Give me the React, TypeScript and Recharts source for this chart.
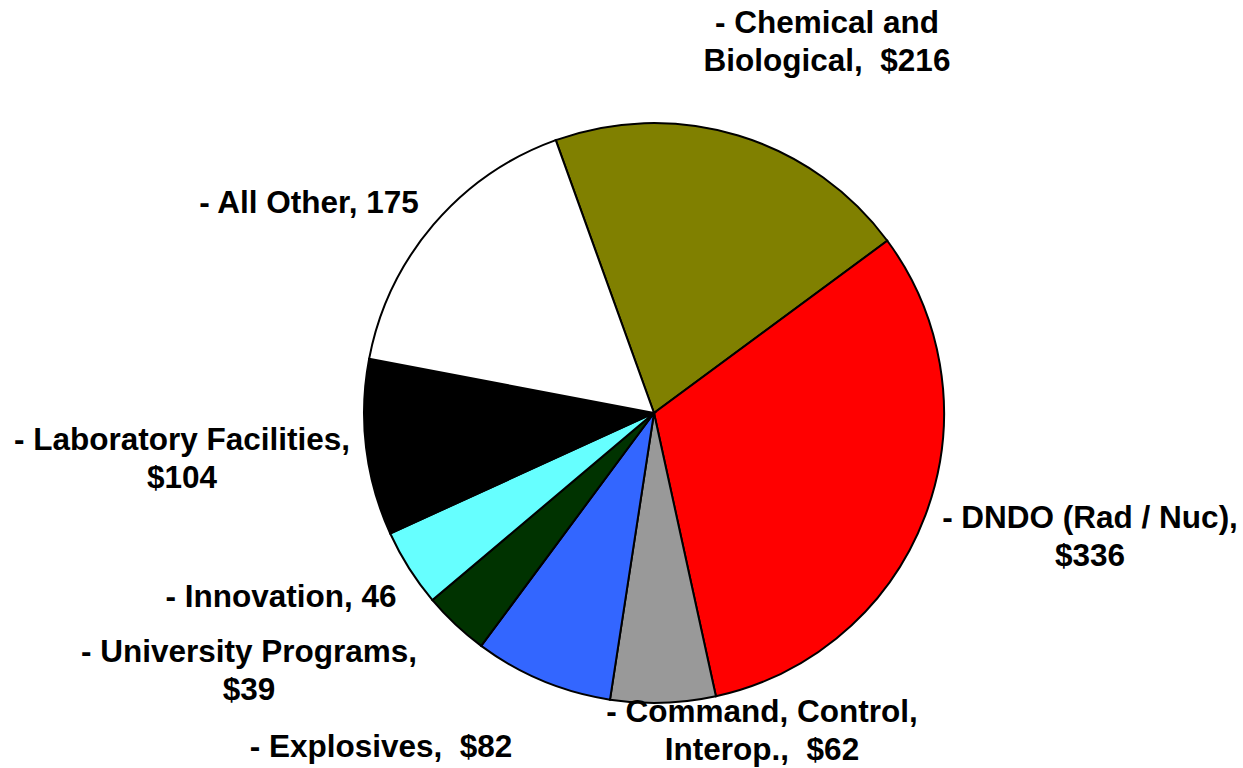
import React from 'react';
import { PieChart, Pie, Cell } from 'recharts';

const CATEGORIES = [
  'Chemical and Biological',
  'DNDO (Rad / Nuc)',
  'Command, Control, Interop.',
  'Explosives',
  'University Programs',
  'Innovation',
  'Laboratory Facilities',
  'All Other',
];
const VALUES = [216, 336, 62, 82, 39, 46, 104, 175];
const LABEL_LINES = [
  ['- Chemical and', 'Biological,  $216'],
  ['- DNDO (Rad / Nuc),', '$336'],
  ['- Command, Control,', 'Interop.,  $62'],
  ['- Explosives,  $82'],
  ['- University Programs,', '$39'],
  ['- Innovation, 46'],
  ['- Laboratory Facilities,', '$104'],
  ['- All Other, 175'],
];
const COLORS = ['#808000', '#FF0000', '#999999', '#3366FF', '#003300', '#66FFFF', '#000000', '#FFFFFF'];

// label anchor (first baseline, centered) offsets from pie centre
const LABEL_OFFSETS: [number, number][] = [
  [173, -380],
  [436, 115],
  [108, 309],
  [-273, 344],
  [-405, 249],
  [-373, 194],
  [-472, 37],
  [-345, -200],
];

const W = 1243;
const H = 768;
const CX = 654;
const CY = 413;
const R = 290;
const START = 109.8;

const data = CATEGORIES.map((name, i) => ({ name, value: VALUES[i] }));

const renderLabel = (props: any) => {
  const i = props.index;
  const [dx, dy] = LABEL_OFFSETS[i];
  const x = CX + dx;
  const y = CY + dy;
  return (
    <text
      key={`lbl-${i}`}
      x={x}
      y={y}
      textAnchor="middle"
      fill="#000"
      fontFamily="'Liberation Sans', Arial, sans-serif"
      fontWeight="bold"
      fontSize={31.5}
      style={{ whiteSpace: 'pre' }}
    >
      {LABEL_LINES[i].map((line, j) => (
        <tspan key={j} x={x} dy={j === 0 ? 0 : 38}>
          {line}
        </tspan>
      ))}
    </text>
  );
};

export default function App() {
  return (
    <div style={{ position: 'absolute', left: 0, top: 0, width: W, height: H, background: '#fff' }}>
      <PieChart width={W} height={H} margin={{ top: 0, right: 0, bottom: 0, left: 0 }}>
        <Pie
          data={data}
          dataKey="value"
          nameKey="name"
          cx={CX}
          cy={CY}
          outerRadius={R}
          innerRadius={0}
          startAngle={START}
          endAngle={START - 360}
          stroke="#000"
          strokeWidth={2}
          label={renderLabel}
          labelLine={false}
          isAnimationActive={false}
        >
          {data.map((d, i) => (
            <Cell key={d.name} fill={COLORS[i]} stroke="#000" strokeWidth={2} />
          ))}
        </Pie>
      </PieChart>
    </div>
  );
}
